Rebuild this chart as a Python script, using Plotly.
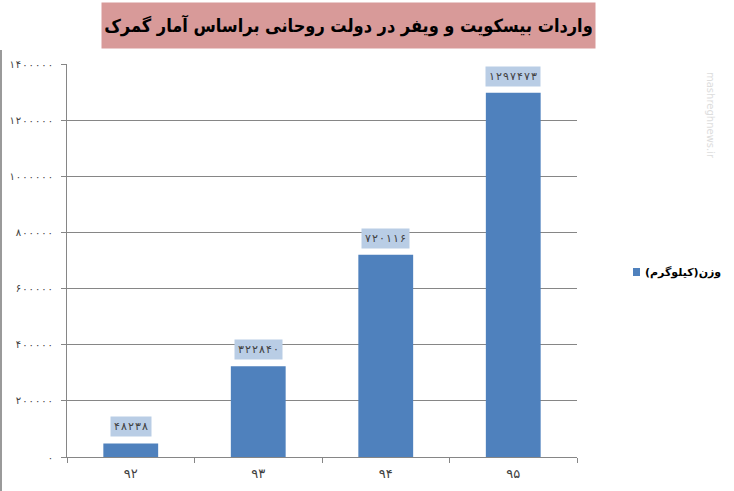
import plotly.graph_objects as go

categories = ["۹۲", "۹۳", "۹۴", "۹۵"]
values = [48238, 322840, 720116, 1297473]
value_labels = ["۴۸۲۳۸", "۳۲۲۸۴۰", "۷۲۰۱۱۶", "۱۲۹۷۴۷۳"]
y_tickvals = [0, 200000, 400000, 600000, 800000, 1000000, 1200000, 1400000]
y_ticktext = ["۰", "۲۰۰۰۰۰", "۴۰۰۰۰۰", "۶۰۰۰۰۰", "۸۰۰۰۰۰", "۱۰۰۰۰۰۰", "۱۲۰۰۰۰۰", "۱۴۰۰۰۰۰"]
series_name = "وزن(کیلوگرم)"
title_text = "واردات بیسکویت و ویفر در دولت روحانی براساس آمار گمرک"

L, R, T, B = 67, 577, 64, 457
PW, PH = R - L, B - T
HS = "\u200a"  # hair space to mimic the spaced digits


def px(x):
    return (x - L) / PW


def py(y):
    return (B - y) / PH


def spaced(s):
    return HS.join(s)


fig = go.Figure()
fig.add_trace(go.Bar(
    x=categories, y=values, name=series_name,
    marker=dict(color="#4f81bd", line=dict(width=0)),
    width=0.43, showlegend=False,
))

for c, v, t in zip(categories, values, value_labels):
    fig.add_annotation(
        x=c, y=v, text=spaced(t), showarrow=False, yanchor="bottom", yshift=6,
        bgcolor="#b9cde5", borderpad=3,
        font=dict(family="DejaVu Sans", size=11, color="#404040"),
    )

# title box
fig.add_annotation(
    xref="paper", yref="paper", x=px(348.5), y=py(25.5),
    text="<b>" + title_text + "</b>", showarrow=False,
    xanchor="center", yanchor="middle", width=487, height=39,
    bgcolor="#d89a99", borderpad=3,
    font=dict(family="DejaVu Sans Condensed", size=18, color="#000000"),
)

# legend
fig.add_shape(type="rect", xref="paper", yref="paper",
              x0=px(633), x1=px(640), y0=py(276), y1=py(268),
              fillcolor="#4f81bd", line=dict(width=0))
fig.add_annotation(
    xref="paper", yref="paper", x=px(643), y=py(272),
    text="<b>" + series_name + "</b>", showarrow=False,
    xanchor="left", yanchor="middle",
    font=dict(family="DejaVu Sans", size=11, color="#000000"),
)

fig.add_annotation(
    xref="paper", yref="paper", x=px(718), y=py(70),
    text="mashreghnews.ir", textangle=90, showarrow=False,
    font=dict(family="DejaVu Sans", size=10, color="#dddddd"),
)

fig.add_shape(type="line", xref="paper", yref="paper",
              x0=px(1), x1=px(1), y0=py(491), y1=py(50),
              line=dict(color="#9a9a9a", width=2))

fig.update_layout(
    width=734, height=491,
    margin=dict(l=L, r=734 - R, t=T, b=491 - B, autoexpand=False),
    paper_bgcolor="white", plot_bgcolor="white",
    showlegend=False,
    xaxis=dict(
        type="category", tickson="boundaries", ticks="outside", ticklen=5,
        tickcolor="#868686", showline=True, linecolor="#868686", linewidth=1,
        showgrid=False, ticklabelstandoff=4,
        tickfont=dict(family="DejaVu Sans", size=13, color="#404040"),
    ),
    yaxis=dict(
        range=[0, 1400000], tickvals=y_tickvals,
        ticktext=[spaced(t) for t in y_ticktext],
        ticks="outside", ticklen=5, tickcolor="#868686",
        showline=True, linecolor="#868686", linewidth=1,
        showgrid=True, gridcolor="#868686", gridwidth=1, zeroline=False,
        ticklabelstandoff=6,
        tickfont=dict(family="DejaVu Sans", size=10, color="#404040"),
    ),
)

fig.write_html("out.html", config={"displayModeBar": False},
               post_script="document.body.style.margin='0';")
